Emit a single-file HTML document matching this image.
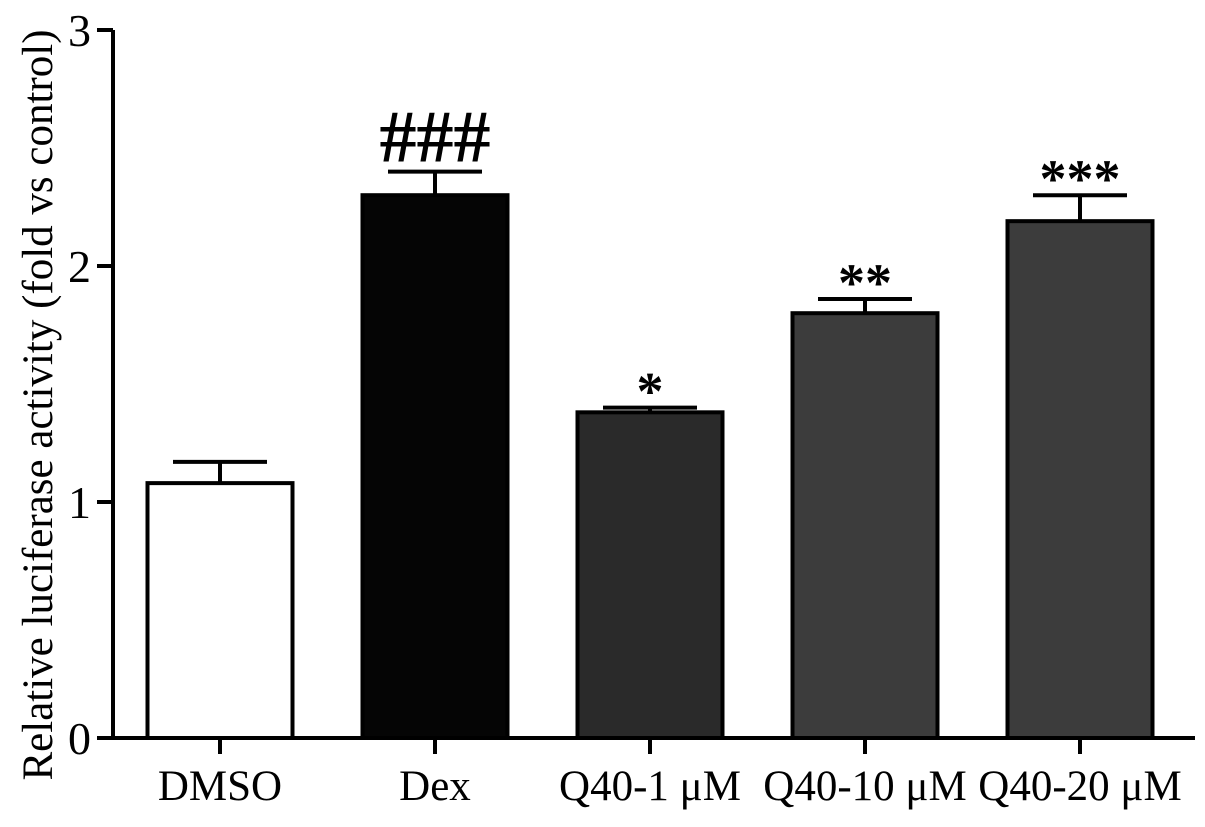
<!DOCTYPE html>
<html><head><meta charset="utf-8"><style>
html,body{margin:0;padding:0;background:#fff;}
svg text{font-family:"Liberation Serif",serif;fill:#000;}
</style></head><body>
<svg id="chart" width="1205" height="822" viewBox="0 0 1205 822" xmlns="http://www.w3.org/2000/svg">
<g id="plot"></g>
</svg>
<script>
const categories = ["DMSO","Dex","Q40-1 \u03bcM","Q40-10 \u03bcM","Q40-20 \u03bcM"];
const values = [1.08, 2.30, 1.38, 1.80, 2.19];
const errors = [0.09, 0.10, 0.02, 0.06, 0.11];
const marks = ["", "###", "*", "**", "***"];
const yTicks = [0,1,2,3];
const fills = ["#ffffff","#050505","#2a2a2a","#3c3c3c","#3c3c3c"];

const NS = "http://www.w3.org/2000/svg";
const g = document.getElementById("plot");
const x0 = 113, y0 = 738, pxPerUnit = 236;
const firstCenter = 220, step = 215, barW = 145;
function yScale(v){ return y0 - v*pxPerUnit; }
function xScale(i){ return firstCenter + i*step; }
function mk(tag, attrs){ const e=document.createElementNS(NS,tag); for(const k in attrs) e.setAttribute(k,attrs[k]); g.appendChild(e); return e; }

categories.forEach((c,i)=>{
  const cx=xScale(i), top=yScale(values[i]);
  const eb=mk("line",{x1:cx,x2:cx,y1:yScale(values[i]+errors[i]),y2:top,stroke:"#000","stroke-width":4});
  
  
  const cap=mk("line",{x1:cx-47,x2:cx+47,y1:yScale(values[i]+errors[i]),y2:yScale(values[i]+errors[i]),stroke:"#000","stroke-width":4});
  
  
  const r=mk("rect",{x:cx-barW/2,y:top,width:barW,height:y0-top,fill:fills[i],stroke:"#000","stroke-width":4});
  
  
  const t=mk("line",{x1:cx,x2:cx,y1:y0,y2:y0+16,stroke:"#000","stroke-width":4});
  
  
  const lab=mk("text",{x:cx,y:y0+62,"text-anchor":"middle","font-size":43});
  lab.textContent=c;
  
  
  if(marks[i]){
    const isHash = marks[i][0]==="#";
    const m=mk("text",{x:cx,y:yScale(values[i]+errors[i])-(isHash?10:-2),"text-anchor":"middle","font-size":isHash?74:54,"font-weight":"bold","font-family":"Liberation Sans, sans-serif"});
    m.textContent=marks[i];
    
    
  }
});
const ya=mk("line",{x1:x0,x2:x0,y1:yScale(3),y2:y0+2,stroke:"#000","stroke-width":4});


const xa=mk("line",{x1:x0-2,x2:1195,y1:y0,y2:y0,stroke:"#000","stroke-width":4});


yTicks.forEach(v=>{
  const t=mk("line",{x1:x0-16,x2:x0,y1:yScale(v),y2:yScale(v),stroke:"#000","stroke-width":4});
  
  
  const l=mk("text",{x:x0-22,y:yScale(v)+16,"text-anchor":"end","font-size":46});
  l.textContent=v;
  
  
});
const yt=mk("text",{x:0,y:0,"text-anchor":"middle","font-size":43,transform:"translate(52,405) rotate(-90)"});
yt.textContent="Relative luciferase activity (fold vs control)";


</script>
</body></html>
